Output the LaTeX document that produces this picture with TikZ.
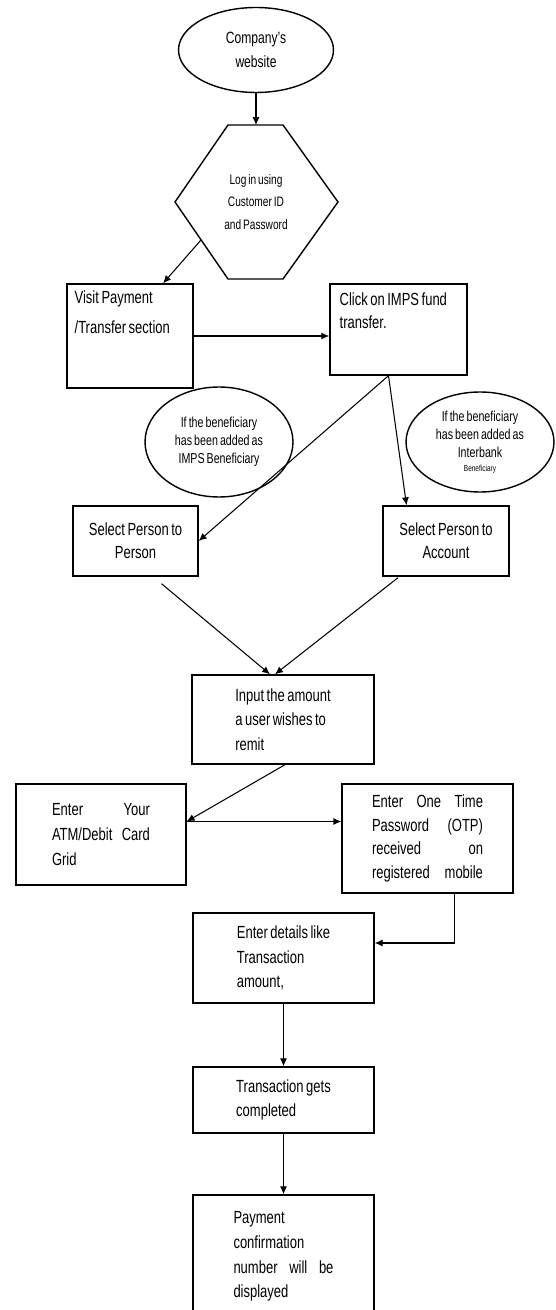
\documentclass[tikz,border=0pt]{standalone}
\usepackage{fontspec}
\setmainfont[FakeStretch=0.74, WordSpace=0.7]{Liberation Sans}
\usetikzlibrary{shapes.geometric,arrows.meta,calc}
\tikzset{
  box/.style={draw, line width=0.8pt, inner sep=0pt, align=left, font=\fontsize{10}{14}\selectfont},
  bubble/.style={draw, ellipse, line width=0.8pt, inner sep=0pt, align=center, font=\fontsize{8.2}{10.2}\selectfont},
  boxtext/.style={anchor=north west, inner sep=0pt, align=left},
  arr/.style={line width=0.6pt, -{Latex[length=4.5pt,width=4pt]}}
}

\begin{document}
\begin{tikzpicture}[x=0.02cm, y=-0.02cm]
    \useasboundingbox (0,0) rectangle (555,1310);
    \clip (0,0) rectangle (555,1310);

    \node[bubble, minimum width=3.1cm, minimum height=1.7cm, font=\fontsize{9.3}{14}\selectfont] (site) at (256,50) {Company's\\website};

    \node[align=center, inner sep=0pt, font=\fontsize{7.8}{13}\selectfont] (login) at (256,202) {Log in using\\Customer ID\\and Password};
    \draw[line width=0.8pt] ($(login)+(-28,-77)$) -- ($(login)+(27,-77)$) -- ($(login)+(82,0)$)
        -- ($(login)+(27,77)$) -- ($(login)+(-28,77)$) -- ($(login)+(-81,0)$) -- cycle;
    \coordinate (lgtop) at ($(login)+(0,-77)$);
    \coordinate (lgedge) at ($(login)+(-55,38)$);

    \node[box, minimum width=2.52cm, minimum height=2.08cm] (visit) at (130,336) {};
    \node[boxtext, font=\fontsize{10}{17}\selectfont] (visit-text) at ($(visit.north west)+(8,7)$) {Visit Payment\\/Transfer section};

    \node[box, minimum width=2.74cm, minimum height=1.82cm] (click) at (398.5,329.5) {};
    \node[boxtext, font=\fontsize{10}{13}\selectfont] (click-text) at ($(click.north west)+(10,9)$) {Click on IMPS fund\\transfer.};

    \node[bubble, minimum width=2.96cm, minimum height=2.2cm] (imps) at (219,442) {If the beneficiary\\has been added as\\IMPS Beneficiary};
    \node[bubble, minimum width=2.96cm, minimum height=2.0cm] (interbank) at (480,442) {If the beneficiary\\has been added as\\Interbank\\[-2pt]{\fontsize{5}{6}\selectfont Beneficiary}};

    \node[box, minimum width=2.5cm, minimum height=1.4cm, align=center, font=\fontsize{10}{13}\selectfont] (p2p) at (135.5,541) {Select Person to\\Person};
    \node[box, minimum width=2.52cm, minimum height=1.4cm, align=center, font=\fontsize{10}{13}\selectfont] (p2a) at (446,541) {Select Person to\\Account};

    \node[box, minimum width=3.64cm, minimum height=1.78cm] (input) at (283,719.5) {Input the amount\\a user wishes to\\remit};

    \node[box, minimum width=3.4cm, minimum height=2.02cm, text width=1.96cm] (atm) at (101,834.5) {Enter\hfill Your\\ATM/Debit\hfill Card\\Grid};
    \node[box, minimum width=3.42cm, minimum height=2.18cm, text width=2.22cm, font=\fontsize{10}{13.5}\selectfont] (otp) at (427.5,838.5) {Enter\hfill One\hfill Time\\Password\hfill (OTP)\\received\hfill on\\registered\hfill mobile};

    \node[box, minimum width=3.62cm, minimum height=1.8cm] (details) at (283.5,958) {Enter details like\\Transaction\\amount,};
    \node[box, minimum width=3.62cm, minimum height=1.32cm] (complete) at (283.5,1100) {Transaction gets\\completed};
    \node[box, minimum width=3.62cm, minimum height=2.46cm, text width=2.0cm] (payment) at (283.5,1256.5) {Payment\\confirmation\\number\hfill will\hfill be\\displayed};

    \draw[arr] (site.south) -- (lgtop);
    \draw[arr] (lgedge) -- ($(visit.north west)!0.76!(visit.north east)$);
    \draw[arr] (visit.east) -- (visit.east -| click.west);
    \coordinate (clickout) at ($(click.south)+(-10,0)$);
    \draw[arr] (clickout) -- (p2p.east);
    \draw[arr] (clickout) -- ($(p2a.north west)!0.19!(p2a.north east)$);
    \draw[arr] ($(p2p.south)+(26,7)$) -- ($(input.north)+(-13,0)$);
    \draw[arr] ($(p2a.south)+(-48,1)$) -- ($(input.north)+(-8,0)$);
    \coordinate (atmin) at ($(atm.east)+(0,-13)$);
    \draw[arr] ($(input.south)+(2,0)$) -- (atmin);
    \draw[arr] (atmin) -- (atmin -| otp.west);
    \draw[arr] ($(otp.south)+(27,0)$) |- ($(details.east)+(0,-15)$);
    \foreach \a/\b in {details/complete, complete/payment}{
        \draw[arr] (\a.south) -- (\b.north);
    }
\end{tikzpicture}
\end{document}
